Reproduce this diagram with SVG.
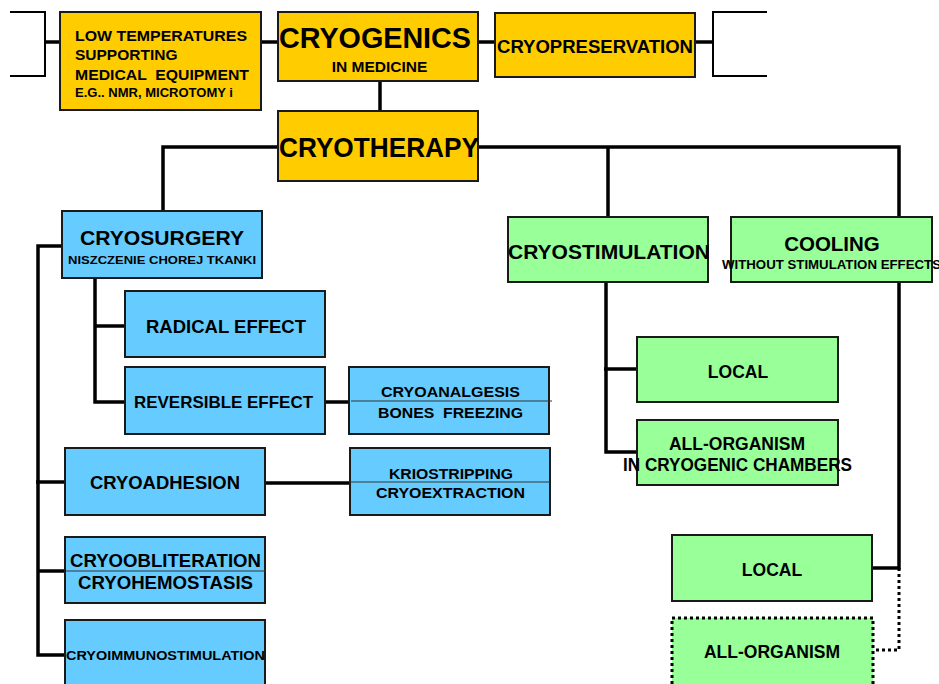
<svg xmlns="http://www.w3.org/2000/svg" width="939" height="684" viewBox="0 0 939 684">
<style>
text{font-family:"Liberation Sans",Arial,sans-serif;font-weight:bold;fill:#000}
.y{fill:#FFCC00;stroke:#1a1a1a;stroke-width:2}
.b{fill:#66CCFF;stroke:#1a1a1a;stroke-width:2}
.g{fill:#99FF99;stroke:#1a1a1a;stroke-width:2}
.gd{fill:#99FF99;stroke:#000;stroke-width:3;stroke-dasharray:3 3}
.c{fill:none;stroke:#000;stroke-width:3.5}
.t{fill:none;stroke:#000;stroke-width:2}
.d{fill:none;stroke:#000;stroke-width:3;stroke-dasharray:3 3}
.sep{stroke:#333;stroke-width:1}
.m{text-anchor:middle}
</style>
<rect width="939" height="684" fill="#fff"/>
<g id="connectors">
<polyline class="t" points="10,12 45,12 45,76 10,76"/>
<polyline class="t" points="767,12 713,12 713,76 767,76"/>
<line class="c" x1="45" y1="42" x2="60" y2="42"/>
<line class="c" x1="261" y1="42" x2="278" y2="42"/>
<line class="c" x1="478" y1="42" x2="495" y2="42"/>
<line class="c" x1="695" y1="42" x2="713" y2="42"/>
<line class="c" x1="380" y1="81" x2="380" y2="111"/>
<polyline class="c" points="278,147 163,147 163,211"/>
<polyline class="c" points="478,147 899,147 899,568 872,568"/>
<line class="c" x1="608" y1="147" x2="608" y2="217"/>
<polyline class="c" points="62,246 38,246 38,655 65,655"/>
<line class="c" x1="36" y1="482" x2="65" y2="482"/>
<line class="c" x1="38" y1="571" x2="65" y2="571"/>
<polyline class="c" points="95,278 95,402 125,402"/>
<line class="c" x1="95" y1="326" x2="125" y2="326"/>
<line class="c" x1="325" y1="402" x2="349" y2="402"/>
<line class="c" x1="265" y1="483" x2="349" y2="483"/>
<polyline class="c" points="606,282 606,452 637,452"/>
<line class="c" x1="604" y1="369" x2="637" y2="369"/>
<polyline class="d" points="899,568 899,650 872,650"/>
</g>
<g id="low-temperatures">
<rect class="y" x="60" y="12" width="201" height="98"/>
<text x="75" y="41" font-size="15.5" textLength="172" lengthAdjust="spacingAndGlyphs">LOW TEMPERATURES</text>
<text x="75" y="60" font-size="15.5">SUPPORTING</text>
<text x="75" y="80" font-size="15.5" textLength="174" lengthAdjust="spacingAndGlyphs" xml:space="preserve">MEDICAL  EQUIPMENT</text>
<text x="75" y="97" font-size="12" textLength="158" lengthAdjust="spacingAndGlyphs">E.G.. NMR, MICROTOMY i</text>
</g>
<g id="cryogenics">
<rect class="y" x="278" y="12" width="200" height="69"/>
<text x="279" y="48" font-size="29" textLength="192" lengthAdjust="spacingAndGlyphs">CRYOGENICS</text>
<text x="379.5" y="72" font-size="15.5" class="m">IN MEDICINE</text>
</g>
<g id="cryopreservation">
<rect class="y" x="495" y="13" width="200" height="64"/>
<text x="497" y="53" font-size="19" textLength="196" lengthAdjust="spacingAndGlyphs">CRYOPRESERVATION</text>
</g>
<g id="cryotherapy">
<rect class="y" x="278" y="111" width="200" height="70"/>
<text x="279" y="157" font-size="28" textLength="200" lengthAdjust="spacingAndGlyphs">CRYOTHERAPY</text>
</g>
<g id="cryosurgery">
<rect class="b" x="62" y="211" width="200" height="67"/>
<text x="80" y="245" font-size="20" textLength="164" lengthAdjust="spacingAndGlyphs">CRYOSURGERY</text>
<text x="68" y="264" font-size="11.5" textLength="188" lengthAdjust="spacingAndGlyphs">NISZCZENIE CHOREJ TKANKI</text>
</g>
<g id="radical-effect">
<rect class="b" x="125" y="291" width="200" height="66"/>
<text x="146" y="333" font-size="18" textLength="160" lengthAdjust="spacingAndGlyphs">RADICAL EFFECT</text>
</g>
<g id="reversible-effect">
<rect class="b" x="125" y="367" width="200" height="67"/>
<text x="134" y="408" font-size="16.5" textLength="179" lengthAdjust="spacingAndGlyphs">REVERSIBLE EFFECT</text>
</g>
<g id="cryoanalgesis">
<rect class="b" x="349" y="367" width="200" height="67"/>
<line class="sep" x1="351" y1="401" x2="552" y2="401"/>
<text x="381" y="397" font-size="15" textLength="139" lengthAdjust="spacingAndGlyphs">CRYOANALGESIS</text>
<text x="378" y="418" font-size="15" textLength="145" lengthAdjust="spacingAndGlyphs" xml:space="preserve">BONES  FREEZING</text>
</g>
<g id="cryoadhesion">
<rect class="b" x="65" y="448" width="200" height="67"/>
<text x="90" y="489" font-size="18" textLength="150" lengthAdjust="spacingAndGlyphs">CRYOADHESION</text>
</g>
<g id="kriostripping">
<rect class="b" x="350" y="448" width="200" height="67"/>
<line class="sep" x1="350" y1="482" x2="550" y2="482"/>
<text x="389" y="479" font-size="15" textLength="124" lengthAdjust="spacingAndGlyphs">KRIOSTRIPPING</text>
<text x="376" y="498" font-size="15" textLength="149" lengthAdjust="spacingAndGlyphs">CRYOEXTRACTION</text>
</g>
<g id="cryoobliteration">
<rect class="b" x="65" y="537" width="200" height="66"/>
<line class="sep" x1="66" y1="571" x2="266" y2="571"/>
<text x="70" y="567" font-size="18" textLength="191" lengthAdjust="spacingAndGlyphs">CRYOOBLITERATION</text>
<text x="78" y="589" font-size="18" textLength="175" lengthAdjust="spacingAndGlyphs">CRYOHEMOSTASIS</text>
</g>
<g id="cryoimmunostimulation">
<rect class="b" x="65" y="620" width="200" height="70"/>
<text x="66" y="660" font-size="13.5" textLength="199" lengthAdjust="spacingAndGlyphs">CRYOIMMUNOSTIMULATION</text>
</g>
<g id="cryostimulation">
<rect class="g" x="508" y="217" width="200" height="65"/>
<text x="508" y="259" font-size="21" textLength="202" lengthAdjust="spacingAndGlyphs">CRYOSTIMULATION</text>
</g>
<g id="cooling">
<rect class="g" x="731" y="217" width="201" height="65"/>
<text x="832" y="251" font-size="20.5" class="m">COOLING</text>
<text x="722" y="269" font-size="13" textLength="219" lengthAdjust="spacingAndGlyphs">WITHOUT STIMULATION EFFECTS</text>
</g>
<g id="local-stim">
<rect class="g" x="637" y="337" width="201" height="65"/>
<text x="738" y="378" font-size="17.5" class="m">LOCAL</text>
</g>
<g id="all-organism-stim">
<rect class="g" x="637" y="420" width="201" height="65"/>
<text x="737" y="450" font-size="17.5" class="m">ALL-ORGANISM</text>
<text x="623" y="471" font-size="17.5" textLength="229" lengthAdjust="spacingAndGlyphs">IN CRYOGENIC CHAMBERS</text>
</g>
<g id="local-cooling">
<rect class="g" x="672" y="535" width="200" height="66"/>
<text x="772" y="576" font-size="17.5" class="m">LOCAL</text>
</g>
<g id="all-organism-cooling">
<rect class="gd" x="672" y="618" width="201" height="72"/>
<text x="772" y="658" font-size="17.5" class="m">ALL-ORGANISM</text>
</g>
</svg>
